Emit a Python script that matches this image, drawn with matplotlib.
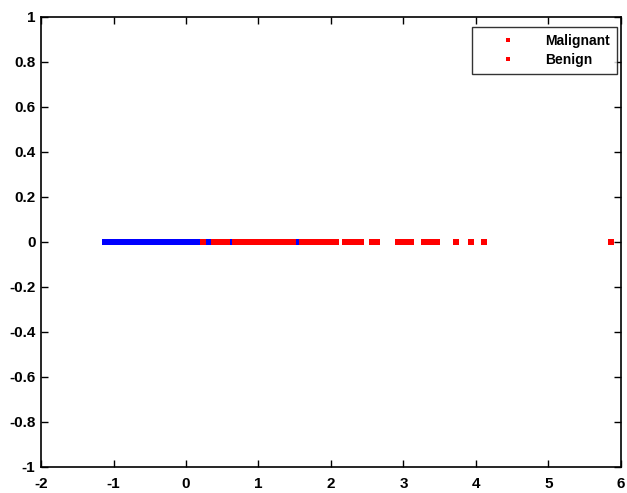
import matplotlib.pyplot as plt

plt.rcParams['font.family'] = ['Liberation Sans', 'DejaVu Sans']
plt.rcParams['font.weight'] = 'bold'
plt.rcParams['axes.unicode_minus'] = False

# benign projections (blue)
benign = [-1.12, -1.08, -1.04, -1.0, -0.96, -0.92, -0.88, -0.84, -0.8, -0.76,
          -0.72, -0.68, -0.64, -0.6, -0.56, -0.52, -0.48, -0.44, -0.4, -0.36,
          -0.32, -0.28, -0.24, -0.2, -0.16, -0.12, -0.08, -0.04, 0.0, 0.04,
          0.08, 0.12, 0.16, 0.2, 0.23, 0.27, 0.31, 0.35, 0.45, 0.55, 0.6,
          0.63, 0.75, 0.9, 1.05, 1.2, 1.35, 1.52, 1.55]
# malignant projections (red)
malignant = [0.24, 0.39, 0.42, 0.45, 0.48, 0.51, 0.54, 0.56,
             0.68, 0.71, 0.74, 0.77, 0.8, 0.83, 0.86, 0.89, 0.92, 0.95, 0.98,
             1.01, 1.04, 1.07, 1.1, 1.13, 1.16, 1.19, 1.22, 1.25, 1.28, 1.31,
             1.34, 1.37, 1.4, 1.43, 1.46, 1.48,
             1.6, 1.63, 1.66, 1.69, 1.72, 1.75, 1.78, 1.81, 1.84, 1.87, 1.9,
             1.93, 1.96, 1.99, 2.02, 2.05, 2.07, 2.19, 2.22, 2.25, 2.28, 2.31,
             2.35, 2.38, 2.42, 2.57, 2.61, 2.64,
             2.93, 2.96, 2.99, 3.03, 3.07, 3.1, 3.28, 3.31, 3.35, 3.39, 3.43, 3.46,
             3.73, 3.93, 4.11, 5.86]

xticks = [-2, -1, 0, 1, 2, 3, 4, 5, 6]
yticks = [-1, -0.8, -0.6, -0.4, -0.2, 0, 0.2, 0.4, 0.6, 0.8, 1]
ylabels = ['-1', '-0.8', '-0.6', '-0.4', '-0.2', '0', '0.2', '0.4', '0.6', '0.8', '1']

fig = plt.figure(figsize=(6.27, 4.93), dpi=100)
ax = fig.add_axes([0.0654, 0.053, 0.925, 0.913])

ax.plot(benign, [0] * len(benign), 's', color='#0000ff', markersize=4.0,
        markeredgewidth=0)
ax.plot(malignant, [0] * len(malignant), 's', color='#ff0000', markersize=4.0,
        markeredgewidth=0)
# legend entries, both red like the original
ax.plot([], [], 's', color='#ff0000', markersize=3.0, markeredgewidth=0, label='Malignant')
ax.plot([], [], 's', color='#ff0000', markersize=3.0, markeredgewidth=0, label='Benign')

ax.set_xlim(-2, 6)
ax.set_ylim(-1, 1)
ax.set_xticks(xticks)
ax.set_yticks(yticks)
ax.set_yticklabels(ylabels)
ax.tick_params(direction='in', length=5, width=1, top=True, right=True, labelsize=11)
ax.tick_params(axis='x', pad=7)
ax.tick_params(axis='y', pad=4)
for s in ax.spines.values():
    s.set_linewidth(1.2)

leg = ax.legend(loc='upper right', bbox_to_anchor=(0.993, 0.978), fontsize=10,
                frameon=True, fancybox=False, edgecolor='black', borderaxespad=0,
                handlelength=4.2, handletextpad=0.6, borderpad=0.5, labelspacing=0.4)
leg.get_frame().set_linewidth(1.0)

fig.savefig('out.png', dpi=100)
